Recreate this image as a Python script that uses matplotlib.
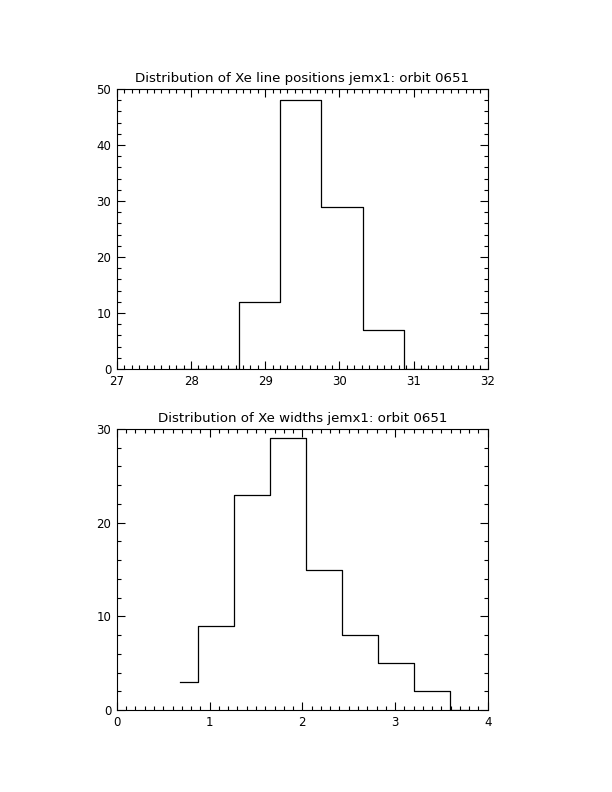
import numpy as np
import matplotlib.pyplot as plt
from matplotlib.ticker import MultipleLocator

# Line position histogram (bin centres and counts)
pos_centres = [27.80, 28.36, 28.92, 29.48, 30.035, 30.59, 31.15]
pos_counts = [0, 0, 12, 48, 29, 7, 0]

# Line width histogram (bin centres and counts)
wid_centres = [0.677, 1.066, 1.455, 1.844, 2.233, 2.622, 3.011, 3.400, 3.789]
wid_counts = [3, 9, 23, 29, 15, 8, 5, 2, 0]

pos_title = 'Distribution of Xe line positions jemx1: orbit 0651'
wid_title = 'Distribution of Xe widths jemx1: orbit 0651'

plt.rcParams['font.family'] = 'DejaVu Sans'
fig = plt.figure(figsize=(6.12, 7.92), dpi=100)

ax1 = fig.add_axes([0.191, 0.534, 0.606, 0.3535])
ax2 = fig.add_axes([0.191, 0.1035, 0.606, 0.3548])


def style_axes(ax, xlim, ylim, xmaj, xmin, ymaj, ymin, title):
    ax.set_xlim(*xlim)
    ax.set_ylim(*ylim)
    ax.xaxis.set_major_locator(MultipleLocator(xmaj))
    ax.xaxis.set_minor_locator(MultipleLocator(xmin))
    ax.yaxis.set_major_locator(MultipleLocator(ymaj))
    ax.yaxis.set_minor_locator(MultipleLocator(ymin))
    ax.tick_params(which='both', direction='in', top=True, right=True,
                   width=0.8, labelsize=8.5, pad=4)
    ax.tick_params(which='major', length=6)
    ax.tick_params(which='minor', length=3)
    for s in ax.spines.values():
        s.set_linewidth(0.8)
    ax.set_title(title, fontsize=9.6, pad=5)


ax1.step(pos_centres, pos_counts, where='mid', color='black', lw=0.9)
style_axes(ax1, (27, 32), (0, 50), 1, 0.1, 10, 2, pos_title)

ax2.step(wid_centres, wid_counts, where='mid', color='black', lw=0.9)
style_axes(ax2, (0, 4), (0, 30), 1, 0.1, 10, 2, wid_title)

fig.savefig('out.png', dpi=100)
